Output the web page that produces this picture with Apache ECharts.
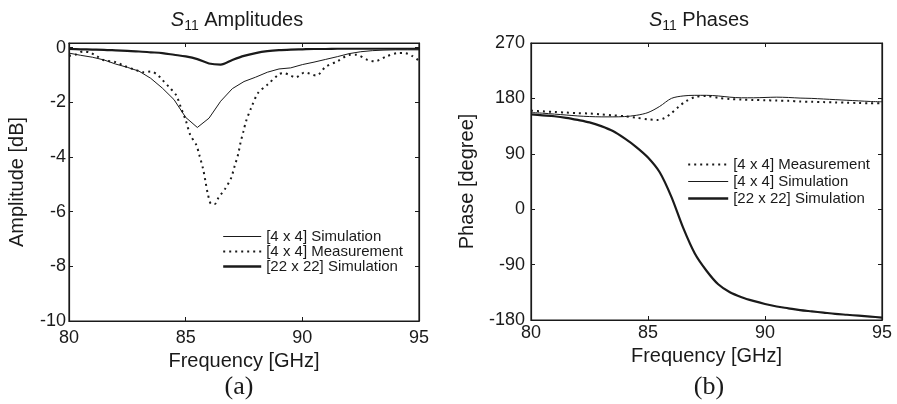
<!DOCTYPE html>
<html>
<head>
<meta charset="utf-8">
<script src="https://cdn.jsdelivr.net/npm/echarts@6/dist/echarts.min.js"></script>
<style>
  html, body { margin: 0; padding: 0; background: #fff; }
  #chart { width: 897px; height: 404px; }
</style>
</head>
<body>
<div id="chart"></div>
<script>
// frequency grid for the simulated curves [GHz]
const freq = [80, 80.5, 81, 81.5, 82, 82.5, 83, 83.5, 84, 84.5, 85, 85.5, 86, 86.5, 87, 87.5,
  88, 88.5, 89, 89.5, 90, 90.5, 91, 91.5, 92, 92.5, 93, 93.5, 94, 94.5, 95];

// (a) amplitudes [dB]
const ampSim4 = [-0.2, -0.28, -0.35, -0.45, -0.6, -0.72, -0.86, -1.12, -1.48, -1.9, -2.55, -2.92,
  -2.58, -1.96, -1.5, -1.24, -1.08, -0.9, -0.78, -0.74, -0.62, -0.53, -0.43, -0.33, -0.22, -0.15,
  -0.11, -0.09, -0.08, -0.08, -0.08];
const ampSim22 = [-0.05, -0.06, -0.07, -0.08, -0.1, -0.12, -0.14, -0.17, -0.2, -0.26, -0.32, -0.42,
  -0.58, -0.62, -0.45, -0.3, -0.2, -0.13, -0.09, -0.07, -0.06, -0.05, -0.05, -0.04, -0.04, -0.04,
  -0.04, -0.04, -0.04, -0.04, -0.04];
const freqMeasAmp = [80, 80.3, 80.6, 80.9, 81.2, 81.5, 82, 82.4, 82.8, 83.2, 83.5, 83.8, 84, 84.3,
  84.6, 84.8, 85, 85.2, 85.45, 85.6, 85.75, 85.85, 85.95, 86.1, 86.25, 86.4, 86.7, 86.95, 87.1,
  87.25, 87.35, 87.47, 87.6, 87.8, 88.1, 88.5, 89, 89.2, 89.5, 89.7, 90.1, 90.6, 91, 91.5, 92,
  92.3, 92.8, 93.1, 93.6, 94.1, 94.4, 94.7, 95];
const ampMeas4 = [-0.3, -0.25, -0.14, -0.18, -0.32, -0.46, -0.53, -0.68, -0.8, -0.9, -0.87, -1.0,
  -1.18, -1.45, -1.75, -2.2, -2.65, -3.2, -3.55, -3.97, -4.45, -4.9, -5.35, -5.72, -5.72, -5.5,
  -5.15, -4.76, -4.33, -3.9, -3.48, -3.08, -2.66, -2.22, -1.66, -1.36, -0.97, -0.93, -1.02, -1.09,
  -0.91, -1.02, -0.7, -0.5, -0.27, -0.26, -0.45, -0.5, -0.32, -0.2, -0.2, -0.3, -0.48];

// (b) phases [degree]
const phaseSim4 = [157, 156, 154.5, 153, 151.5, 150.5, 150, 150, 150.5, 152.5, 157, 167, 180, 184,
  185, 185, 184, 182, 181, 181, 181.5, 182, 181.5, 180.5, 180, 179, 178, 177, 176, 175, 174.5];
const phaseSim22 = [154, 152.5, 151, 148.5, 145, 141, 135, 127, 115, 101, 84, 60, 20, -30, -72,
  -100, -122, -135, -143, -149, -154, -158, -161, -164, -166, -168, -170, -171.5, -173, -174.5, -176];
const freqMeasPhase = [80, 80.5, 81, 81.5, 82, 82.5, 83, 83.5, 84, 84.5, 85, 85.4, 85.7, 86, 86.3,
  86.6, 87, 87.5, 88, 88.5, 89, 89.5, 90, 90.5, 91, 91.5, 92, 92.5, 93, 93.5, 94, 94.5, 95];
const phaseMeas4 = [160, 159, 158, 157, 156, 155.5, 154, 152.5, 151, 148.5, 146, 145, 148, 156, 166,
  175, 182, 184, 181, 179, 178, 177.5, 177, 176.5, 176, 175, 174.5, 174, 173.5, 173, 172.5, 172, 172];

const ampTicks = [-10, -8, -6, -4, -2, 0];
const phaseTicks = [-180, -90, 0, 90, 180, 270];

const SIM4 = '[4 x 4] Simulation';
const MEAS4 = '[4 x 4] Measurement';
const SIM22 = '[22 x 22] Simulation';

const ink = '#1a1a1a';
const font = 'Liberation Sans, Arial, sans-serif';

const pairs = (xs, ys) => xs.map((x, i) => [x, ys[i]]);

const chart = echarts.init(document.getElementById('chart'), null, { renderer: 'canvas' });

const xAxisBase = (grid, pos, showLabel, margin) => ({
  type: 'value', gridIndex: grid, position: pos, min: 80, max: 95, interval: 5,
  axisLine: { show: true, onZero: false, lineStyle: { color: ink, width: 1.2 } },
  axisTick: { show: true, inside: true, length: 4, lineStyle: { color: ink } },
  axisLabel: { show: showLabel, margin: margin, fontSize: 18, fontFamily: font, color: ink },
  splitLine: { show: false }
});

const yAxisBase = (grid, pos, showLabel, min, max, step, ticks, margin) => ({
  type: 'value', gridIndex: grid, position: pos, min: min, max: max, interval: step,
  axisLine: { show: true, onZero: false, lineStyle: { color: ink, width: 1.2 } },
  axisTick: { show: true, inside: true, length: 4, lineStyle: { color: ink } },
  axisLabel: {
    show: showLabel, margin: margin, fontSize: 18, fontFamily: font, color: ink,
    formatter: v => (ticks.indexOf(v) >= 0 ? String(v) : '')
  },
  splitLine: { show: false }
});

const legendText = { fontSize: 15, fontFamily: font, color: ink };

// legend entries with their own sample line styles
const legendItem = (name, width, type) => ({
  name: name, lineStyle: { width: width, type: type || 'solid', color: ink }
});

const titleRich = {
  s: { fontSize: 20, fontStyle: 'italic', fontFamily: font, fill: ink },
  sub: { fontSize: 14, fontFamily: font, fill: ink, padding: [12, 0, 0, 0] },
  t: { fontSize: 20, fontFamily: font, fill: ink }
};

const option = {
  animation: false,
  backgroundColor: '#fff',
  grid: [
    { left: 69, top: 43, width: 350, height: 278, show: true, borderColor: ink, borderWidth: 1.2 },
    { left: 531, top: 43, width: 351, height: 277, show: true, borderColor: ink, borderWidth: 1.2 }
  ],
  xAxis: [
    Object.assign(xAxisBase(0, 'bottom', true, 8), {
      name: 'Frequency [GHz]', nameLocation: 'middle', nameGap: 27,
      nameTextStyle: { fontSize: 20, fontFamily: font, color: ink }
    }),
    xAxisBase(0, 'top', false, 8),
    Object.assign(xAxisBase(1, 'bottom', true, 4), {
      name: 'Frequency [GHz]', nameLocation: 'middle', nameGap: 25,
      nameTextStyle: { fontSize: 20, fontFamily: font, color: ink }
    }),
    xAxisBase(1, 'top', false, 4)
  ],
  yAxis: [
    Object.assign(yAxisBase(0, 'left', true, -10, 0.17, 2, ampTicks, 3), {
      name: 'Amplitude [dB]', nameLocation: 'middle', nameGap: 42,
      nameTextStyle: { fontSize: 20, fontFamily: font, color: ink }
    }),
    yAxisBase(0, 'right', false, -10, 0.17, 2, ampTicks, 3),
    Object.assign(yAxisBase(1, 'left', true, -180, 270, 90, phaseTicks, 6), {
      name: 'Phase [degree]', nameLocation: 'middle', nameGap: 54,
      nameTextStyle: { fontSize: 20, fontFamily: font, color: ink }
    }),
    yAxisBase(1, 'right', false, -180, 270, 90, phaseTicks, 6)
  ],
  legend: [
    {
      data: [legendItem(SIM4, 1), legendItem(MEAS4, 2, [2, 4]), legendItem(SIM22, 2.4)],
      orient: 'vertical', left: 222, top: 229,
      itemWidth: 38, itemHeight: 11, itemGap: 0, padding: 0, textStyle: legendText,
      itemStyle: { opacity: 0 }
    },
    {
      data: [legendItem(MEAS4, 2, [2, 4]), legendItem(SIM4, 1), legendItem(SIM22, 2.4)],
      orient: 'vertical', left: 687, top: 157,
      itemWidth: 40, itemHeight: 11, itemGap: 2, padding: 0, textStyle: legendText,
      itemStyle: { opacity: 0 }
    }
  ],
  graphic: [
    {
      type: 'text', x: 237, y: 20,
      style: { text: '{s|S}{sub|11}{t| Amplitudes}', align: 'center', verticalAlign: 'middle', fill: ink, rich: titleRich }
    },
    {
      type: 'text', x: 699, y: 20,
      style: { text: '{s|S}{sub|11}{t| Phases}', align: 'center', verticalAlign: 'middle', fill: ink, rich: titleRich }
    },
    {
      type: 'text', x: 239, y: 387,
      style: { text: '(a)', align: 'center', verticalAlign: 'middle', fill: ink,
        font: '26px "Liberation Serif", "Times New Roman", serif' }
    },
    {
      type: 'text', x: 709, y: 387,
      style: { text: '(b)', align: 'center', verticalAlign: 'middle', fill: ink,
        font: '26px "Liberation Serif", "Times New Roman", serif' }
    }
  ],
  series: [
    {
      name: SIM4, type: 'line', xAxisIndex: 0, yAxisIndex: 0, symbol: 'none',
      data: pairs(freq, ampSim4), lineStyle: { color: ink, width: 1 }, itemStyle: { color: ink }
    },
    {
      name: MEAS4, type: 'line', xAxisIndex: 0, yAxisIndex: 0, symbol: 'none', smooth: 0.3,
      data: pairs(freqMeasAmp, ampMeas4), lineStyle: { color: ink, width: 2, type: [2, 4] }, itemStyle: { color: ink }
    },
    {
      name: SIM22, type: 'line', xAxisIndex: 0, yAxisIndex: 0, symbol: 'none', smooth: 0.3,
      data: pairs(freq, ampSim22), lineStyle: { color: ink, width: 2.2 }, itemStyle: { color: ink }
    },
    {
      name: MEAS4, type: 'line', xAxisIndex: 2, yAxisIndex: 2, symbol: 'none', smooth: 0.3,
      data: pairs(freqMeasPhase, phaseMeas4), lineStyle: { color: ink, width: 2, type: [2, 4] }, itemStyle: { color: ink }
    },
    {
      name: SIM4, type: 'line', xAxisIndex: 2, yAxisIndex: 2, symbol: 'none', smooth: 0.3,
      data: pairs(freq, phaseSim4), lineStyle: { color: ink, width: 1 }, itemStyle: { color: ink }
    },
    {
      name: SIM22, type: 'line', xAxisIndex: 2, yAxisIndex: 2, symbol: 'none', smooth: 0.3,
      data: pairs(freq, phaseSim22), lineStyle: { color: ink, width: 2.2 }, itemStyle: { color: ink }
    }
  ]
};

chart.setOption(option);
</script>
</body>
</html>
